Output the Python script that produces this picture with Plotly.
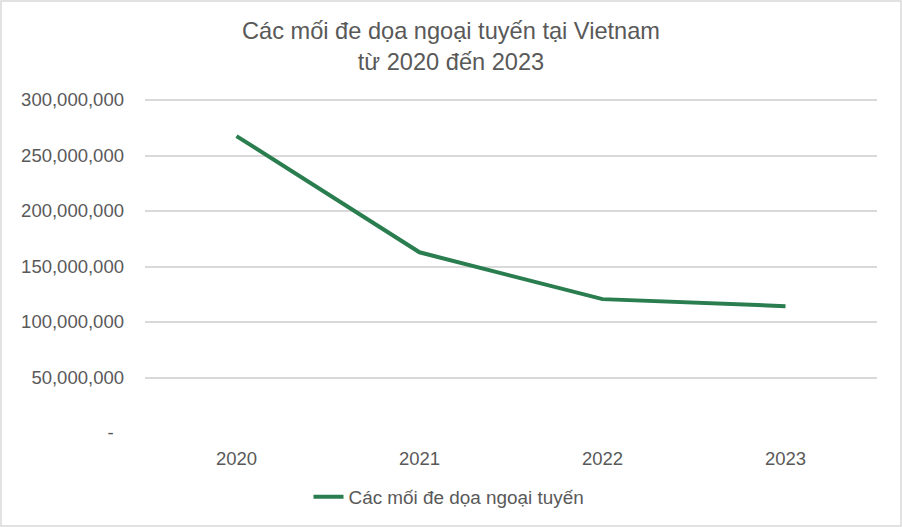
import plotly.graph_objects as go

# values
years = ["2020", "2021", "2022", "2023"]
threats = [267500000, 162800000, 120600000, 114300000]
series_name = "Các mối đe dọa ngoại tuyến"

y_ticks = [0, 50000000, 100000000, 150000000, 200000000, 250000000, 300000000]
y_labels = ["-\u00a0\u00a0", "50,000,000", "100,000,000", "150,000,000",
            "200,000,000", "250,000,000", "300,000,000"]

grey = "#595959"
green = "#2A7D4F"
grid = "#D9D9D9"

fig = go.Figure()
fig.add_trace(go.Scatter(
    x=years,
    y=threats,
    mode="lines",
    name=series_name,
    line=dict(color=green, width=4),
))

W, H = 902, 527
L, R, T, B = 145, 25, 98, 94
pw, ph = W - L - R, H - T - B

fig.update_layout(
    width=W,
    height=H,
    margin=dict(l=L, r=R, t=T, b=B, autoexpand=False),
    paper_bgcolor="white",
    plot_bgcolor="white",
    font=dict(family="Liberation Sans, Arial, sans-serif", color=grey, size=18.5),
    title=dict(
        text="Các mối đe dọa ngoại tuyến tại Vietnam<br>từ 2020 đến 2023",
        x=0.5, xanchor="center",
        y=1 - 39 / H, yanchor="top", yref="container",
        font=dict(size=23.6, color=grey),
    ),
    showlegend=True,
    legend=dict(
        orientation="h",
        x=(449 - L) / pw, xanchor="center",
        y=-64 / ph, yanchor="middle",
        font=dict(size=18.9, color=grey),
    ),
    xaxis=dict(
        type="category",
        range=[-0.5, 3.5],
        showgrid=False,
        zeroline=False,
        showline=False,
        ticks="",
        tickangle=0,
        tickfont=dict(size=18.5, color=grey),
        ticklabelstandoff=12,
    ),
    yaxis=dict(
        range=[0, 301800000],
        tickvals=y_ticks,
        ticktext=y_labels,
        showgrid=True,
        gridcolor=grid,
        gridwidth=1.5,
        zeroline=False,
        showline=False,
        ticks="",
        tickfont=dict(size=18.5, color=grey),
        ticklabelstandoff=20,
    ),
    shapes=[dict(
        type="rect", xref="paper", yref="paper",
        x0=-L / pw + 1 / pw, x1=1 + (R - 1) / pw,
        y0=-B / ph + 1 / ph, y1=1 + (T - 1) / ph,
        line=dict(color=grid, width=1.5),
        fillcolor="rgba(0,0,0,0)",
        layer="below",
    )],
)

fig.write_html("out.html", config={"displayModeBar": False},
               post_script="document.body.style.margin='0';")
